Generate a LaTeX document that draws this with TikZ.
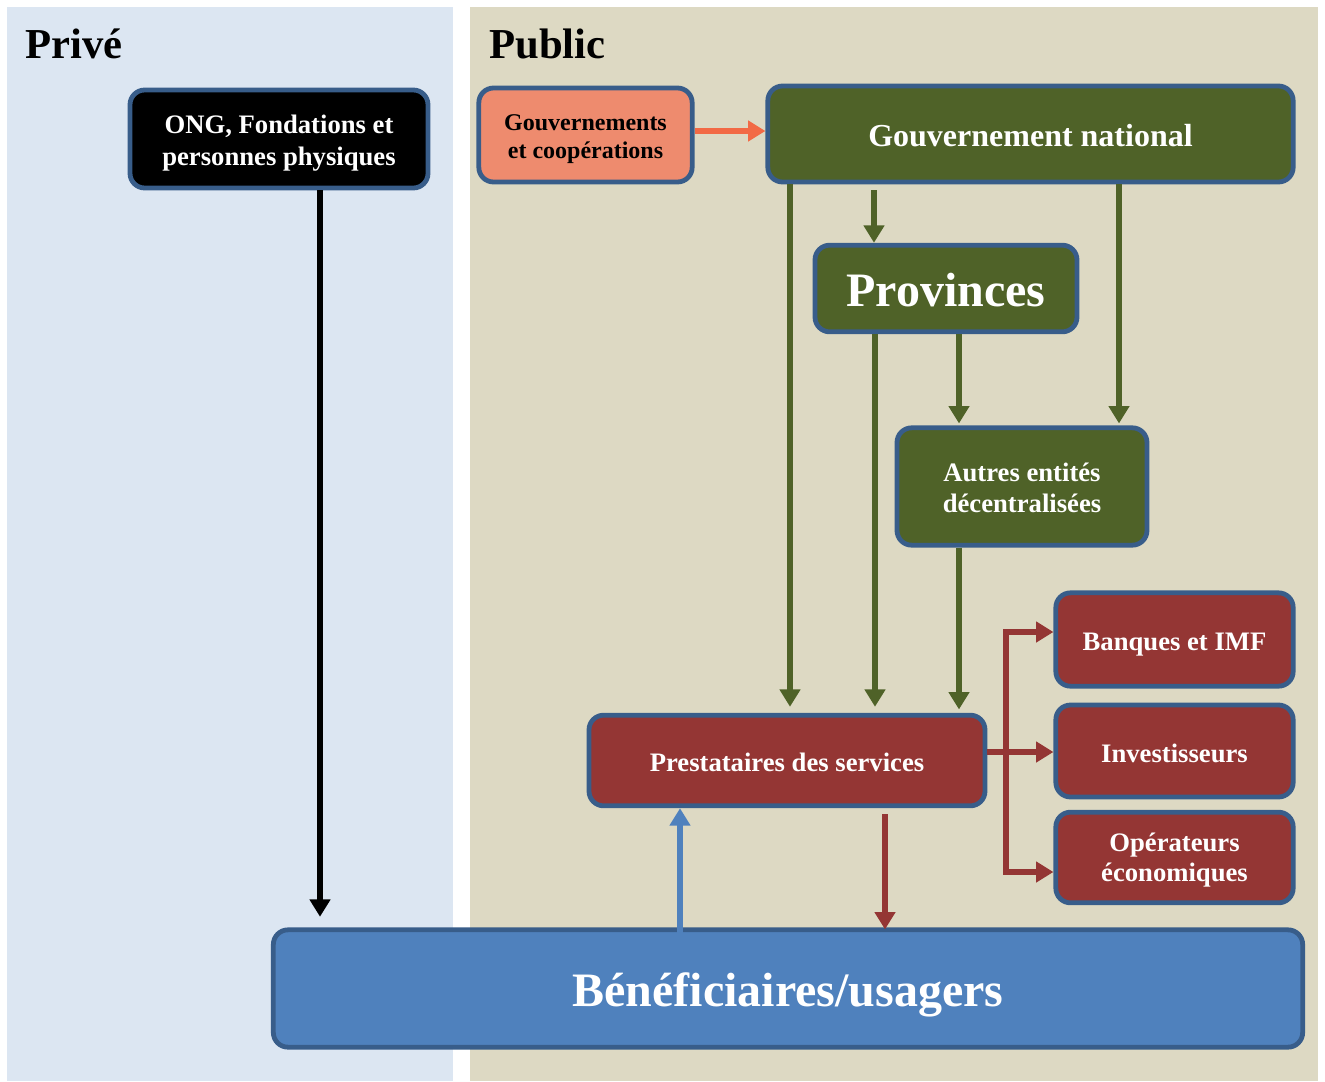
\documentclass[tikz,border=0pt]{standalone}
\usepackage{fontspec}
\setmainfont{Liberation Serif}
\usetikzlibrary{arrows.meta,calc}
\definecolor{privbg}{HTML}{DCE6F2}
\definecolor{pubbg}{HTML}{DDD9C3}
\definecolor{bord}{HTML}{385D8A}
\definecolor{gr}{HTML}{4F6228}
\definecolor{rd}{HTML}{943634}
\definecolor{bl}{HTML}{4F81BD}
\definecolor{salm}{HTML}{EE8B6E}
\definecolor{salmarr}{HTML}{F26A45}
\newcommand\boxtxt[2][-0.16em]{\raisebox{#1}[\height][\depth]{\begin{tabular}{@{}c@{}}#2\end{tabular}}}
\begin{document}
\begin{tikzpicture}[x=0.75pt,y=-0.75pt,
  box/.style={draw=bord,line width=3.6pt,rounded corners=11pt,
    font=\bfseries,text=white,inner sep=0pt},
  garr/.style={draw=gr,line width=4.1pt,-{Triangle[width=15pt,length=13pt]}},
  rarr/.style={draw=rd,line width=4.1pt,-{Triangle[width=15pt,length=13pt]}},
  rline/.style={draw=rd,line width=4.1pt},
  barr/.style={draw=bl,line width=4.4pt,-{Triangle[width=15pt,length=13pt]}},
  karr/.style={draw=black,line width=5pt,-{Triangle[width=15pt,length=13pt]}},
  sarr/.style={draw=salmarr,line width=5pt,-{Triangle[width=15pt,length=13pt]}},
  ttl/.style={font=\bfseries\fontsize{32pt}{36pt}\selectfont,anchor=base west,inner sep=0pt}
]
\useasboundingbox (0,0) rectangle (1325,1082);
\fill[white] (0,0) rectangle (1325,1082);
\fill[privbg] (7,7) rectangle (453,1081);
\fill[pubbg] (470,7) rectangle (1318,1081);
\node[ttl] (tpriv) at (25,58) {Privé};
\node[ttl] (tpub) at (489,58) {Public};

\node[box,fill=black,minimum width=223.5pt,minimum height=73.5pt,
  font=\bfseries\fontsize{20pt}{23.5pt}\selectfont] (ONG) at (279,139)
  {\boxtxt{ONG, Fondations et\\personnes physiques}};
\node[box,fill=salm,text=black,minimum width=160pt,minimum height=70.5pt,
  font=\bfseries\fontsize{18pt}{21pt}\selectfont] (GC) at (585.5,135)
  {\boxtxt{Gouvernements\\et coopérations}};
\node[box,fill=gr,minimum width=394pt,minimum height=72pt,
  font=\bfseries\fontsize{24pt}{28pt}\selectfont] (GN) at (1030.5,134)
  {\boxtxt{Gouvernement national}};
\node[box,fill=gr,minimum width=196.5pt,minimum height=65pt,
  font=\bfseries\fontsize{36pt}{40pt}\selectfont] (Prov) at (946,288.5)
  {\boxtxt{Provinces}};
\node[box,fill=gr,minimum width=187.5pt,minimum height=88pt,
  font=\bfseries\fontsize{20pt}{23.5pt}\selectfont] (Aut) at (1022,486.5)
  {\boxtxt{Autres entités\\décentralisées}};
\node[box,fill=rd,minimum width=178pt,minimum height=70pt,
  font=\bfseries\fontsize{20pt}{23.5pt}\selectfont] (Bq) at (1174.5,639.5)
  {\boxtxt[-0.19em]{Banques et IMF}};
\node[box,fill=rd,minimum width=178pt,minimum height=69pt,
  font=\bfseries\fontsize{20pt}{23.5pt}\selectfont] (Inv) at (1174.5,751)
  {\boxtxt[-0.19em]{Investisseurs}};
\node[box,fill=rd,minimum width=178pt,minimum height=68pt,
  font=\bfseries\fontsize{20pt}{22.5pt}\selectfont] (Op) at (1174.5,857.5)
  {\boxtxt[-0.12em]{Opérateurs\\économiques}};
\node[box,fill=rd,minimum width=297pt,minimum height=68pt,
  font=\bfseries\fontsize{20pt}{23.5pt}\selectfont] (Prest) at (787,760.5)
  {\boxtxt[-0.19em]{Prestataires des services}};
\node[box,fill=bl,minimum width=772pt,minimum height=88pt,
  font=\bfseries\fontsize{36pt}{40pt}\selectfont] (Ben) at (788,988.5)
  {\boxtxt{Bénéficiaires/usagers}};

\coordinate (xb) at (320,0);
\coordinate (x790) at (790,0);
\coordinate (x874) at (874,0);
\coordinate (x875) at (875,0);
\coordinate (x959) at (959,0);
\coordinate (x1119) at (1119,0);
\coordinate (x1006) at (1006,0);
\coordinate (x885) at (885,0);
\coordinate (x680) at (680,0);
\coordinate (y131) at (0,131);
\coordinate (y632) at (0,632);
\coordinate (y752) at (0,752);
\coordinate (y872) at (0,872);

% private flow
\draw[karr,shorten >=8pt] (ONG.south -| xb) -- (Ben.north -| xb);
% government
\draw[sarr] (GC.east |- y131) -- (GN.west |- y131);
\draw[garr,shorten >=4.5pt] (GN.south -| x790) -- (Prest.north -| x790);
\draw[garr,shorten <=4.5pt] (GN.south -| x874) -- (Prov.north -| x874);
\draw[garr,shorten >=4.5pt] (Prov.south -| x875) -- (Prest.north -| x875);
\draw[garr,shorten >=1.5pt] (Prov.south -| x959) -- (Aut.north -| x959);
\draw[garr,shorten >=1.5pt] (GN.south -| x1119) -- (Aut.north -| x1119);
\draw[garr,shorten >=2.5pt] (Aut.south -| x959) -- (Prest.north -| x959);
% services to economic actors
\draw[rarr] (Prest.east |- y752) -- (Inv.west |- y752);
\draw[rline] ([yshift=2pt]x1006 |- y632) -- ([yshift=-2pt]x1006 |- y872);
\draw[rarr] ([xshift=-2pt]x1006 |- y632) -- (Bq.west |- y632);
\draw[rarr] ([xshift=-2pt]x1006 |- y872) -- (Op.west |- y872);
% services and users
\draw[rarr,shorten <=4.5pt,shorten >=-1.5pt] (Prest.south -| x885) -- (Ben.north -| x885);
\draw[barr,shorten <=-6pt] (Ben.north -| x680) -- (Prest.south -| x680);
\end{tikzpicture}
\end{document}
